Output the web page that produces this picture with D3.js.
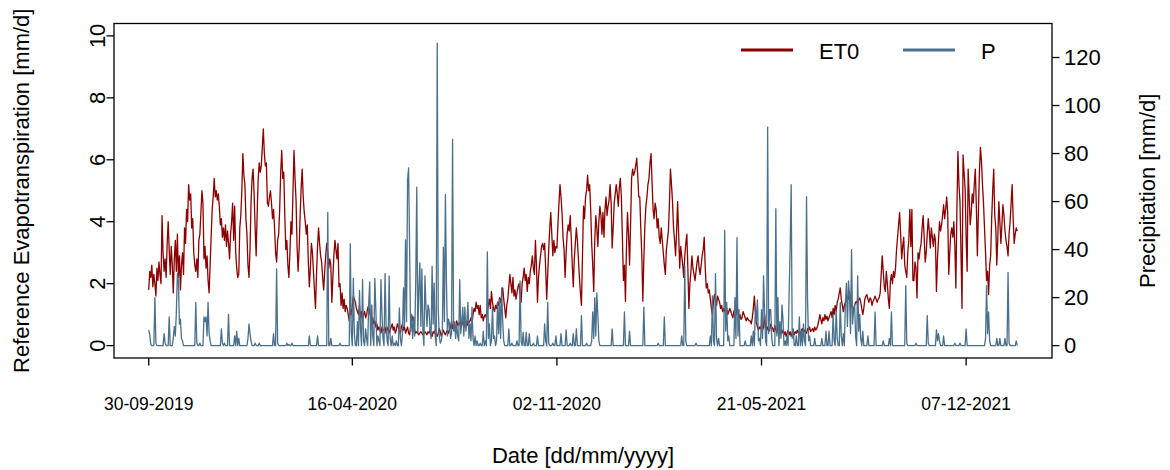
<!DOCTYPE html>
<html>
<head>
<meta charset="utf-8">
<script src="https://cdn.jsdelivr.net/npm/d3@7"></script>
<style>
  body { margin: 0; background: #fff; }
  svg { display: block; font-family: "Liberation Sans", Arial, sans-serif; }
</style>
</head>
<body>
<div id="chart"></div>
<script>
// ---- data ----
const startDate = "30-09-2019";
const dateTicks = ["30-09-2019", "16-04-2020", "02-11-2020", "21-05-2021", "07-12-2021"];
const et0Ticks = [0, 2, 4, 6, 8, 10];
const pTicks = [0, 20, 40, 60, 80, 100, 120];
const et0Lim = [0, 10];
const pLim = [0, 129];
const seriesNames = ["ET0", "P"];

// daily reference evapotranspiration [mm/d], one value per day from startDate
const et0 = [
  1.8, 2.4, 2.2, 2.6, 1.9, 2.3, 2.0, 1.6, 2.5, 2.1,
  2.7, 2.3, 2.0, 4.2, 3.0, 2.4, 2.8, 2.2, 3.3, 4.0,
  3.1, 2.3, 3.2, 2.6, 1.7, 2.8, 3.4, 2.4, 3.6, 2.2,
  2.9, 1.8, 2.6, 3.0, 2.3, 3.8, 3.3, 4.4, 4.0, 5.2,
  4.7, 4.9, 3.8, 4.1, 3.0, 2.6, 2.4, 2.8, 2.2, 3.4,
  3.6, 4.3, 5.0, 4.6, 2.8, 3.2, 2.5, 2.9, 2.1, 1.7,
  2.6, 3.5, 4.4, 4.8, 5.4, 4.8, 5.0, 4.7, 4.9, 4.5,
  3.9, 4.1, 3.5, 3.8, 3.4, 3.9, 3.2, 3.7, 3.3, 2.8,
  3.6, 4.0, 4.6, 3.4, 4.5, 3.0, 2.5, 2.2, 2.3, 3.8,
  4.2, 5.0, 6.2, 5.5, 5.2, 4.1, 3.6, 2.6, 2.2, 3.1,
  4.6, 5.4, 5.7, 4.9, 3.8, 2.9, 4.3, 5.4, 5.9, 5.6,
  5.8, 6.4, 7.0, 6.2, 5.8, 5.9, 4.6, 4.5, 4.8, 5.0,
  4.6, 4.1, 4.4, 3.8, 3.0, 2.7, 3.4, 3.6, 4.4, 5.6,
  6.3, 5.4, 5.6, 4.2, 3.1, 3.4, 2.6, 2.2, 3.0, 4.0,
  3.6, 5.0, 6.3, 5.4, 4.7, 3.2, 2.4, 3.1, 4.2, 5.1,
  5.7, 4.8, 4.3, 4.0, 3.6, 3.9, 2.7, 1.9, 2.5, 3.3,
  3.0, 2.4, 1.8, 1.2, 2.3, 3.2, 3.8, 3.3, 2.9, 2.7,
  2.2, 1.8, 2.4, 2.9, 3.3, 3.0, 2.5, 2.8, 2.6, 1.4,
  2.2, 2.9, 3.4, 3.1, 2.8, 3.3, 1.9, 2.0, 1.3, 1.7,
  1.2, 1.5, 1.1, 1.3, 1.2, 1.0, 0.8, 1.2, 1.0, 1.3,
  1.6, 1.5, 1.4, 1.2, 1.1, 1.0, 1.3, 0.9, 1.1, 0.8,
  1.0, 1.1, 0.9, 1.0, 1.2, 1.3, 1.1, 0.9, 0.7, 0.9,
  0.7, 0.8, 0.6, 0.7, 0.5, 0.6, 0.5, 0.4, 0.6, 0.5,
  0.5, 0.6, 0.4, 0.5, 0.6, 0.4, 0.5, 0.6, 0.7, 0.5,
  0.6, 0.4, 0.5, 0.7, 0.6, 0.5, 0.4, 0.6, 0.7, 0.5,
  0.6, 0.4, 0.5, 0.6, 0.4, 0.35, 0.6, 0.8, 0.95, 0.7,
  0.5, 0.4, 0.45, 0.4, 0.35, 0.4, 0.45, 0.4, 0.35, 0.4,
  0.45, 0.4, 0.35, 0.45, 0.4, 0.5, 0.35, 0.3, 0.45, 0.4,
  0.5, 0.35, 0.3, 0.4, 0.55, 0.45, 0.3, 0.4, 0.5, 0.4,
  0.35, 0.45, 0.5, 0.4, 0.5, 0.6, 0.8, 0.55, 0.7, 0.5,
  0.6, 0.8, 0.65, 0.7, 0.75, 0.6, 0.8, 0.7, 0.6, 0.75,
  0.7, 0.8, 0.65, 0.75, 0.8, 0.9, 0.7, 1.0, 1.2, 1.1,
  1.4, 1.2, 1.3, 1.0, 1.3, 0.9, 1.0, 0.8, 0.95, 1.0,
  0.9, 1.1, 1.3, 1.5, 1.2, 1.75, 1.4, 1.2, 1.1, 1.3,
  1.2, 1.4, 1.3, 1.55, 1.4, 1.6, 1.86, 1.5, 1.2, 0.9,
  1.3, 1.5, 1.9, 2.3, 2.0, 1.7, 2.2, 1.6, 1.8, 1.5,
  1.7, 1.9, 2.0, 1.6, 1.4, 2.0, 2.2, 2.5, 2.1, 2.3,
  1.75, 2.2, 2.0, 2.4, 2.6, 2.9, 2.5, 2.3, 3.4, 2.6,
  1.4, 2.2, 2.6, 2.9, 3.2, 3.3, 3.1, 3.3, 2.5, 1.5,
  2.3, 3.1, 3.8, 4.3, 3.6, 2.9, 3.4, 3.0, 3.2, 3.15,
  3.9, 4.6, 5.2, 4.8, 4.3, 3.5, 3.1, 2.2, 3.0, 3.6,
  3.9, 3.7, 4.2, 3.5, 2.6, 1.9, 2.8, 3.3, 3.8, 3.4,
  2.8, 2.2, 1.7, 1.3, 2.9, 4.5, 4.1, 4.8, 5.0, 5.5,
  5.0, 5.2, 4.4, 3.3, 2.6, 1.75, 3.4, 4.2, 3.8, 3.2,
  4.0, 4.5, 4.2, 3.6, 4.3, 3.5, 4.4, 4.8, 4.2, 4.5,
  4.7, 5.2, 4.6, 3.15, 3.8, 4.6, 4.9, 5.2, 4.9, 4.5,
  5.1, 5.4, 4.8, 3.5, 2.1, 2.6, 1.43, 3.2, 4.3, 3.6,
  2.6, 3.9, 5.4, 5.7, 5.5, 5.6, 5.8, 6.05, 5.5, 4.8,
  4.8, 3.8, 2.9, 1.43, 2.8, 3.9, 4.5, 4.8, 5.2, 5.4,
  5.9, 6.2, 5.3, 4.4, 4.1, 4.6, 4.4, 3.8, 4.1, 3.5,
  3.3, 3.8, 3.4, 3.0, 2.6, 2.3, 3.1, 3.4, 3.7, 4.6,
  5.7, 5.2, 4.65, 3.8, 3.4, 2.9, 3.7, 4.65, 3.6, 2.5,
  3.2, 2.9, 2.6, 2.2, 2.9, 3.3, 3.6, 2.5, 1.2, 2.0,
  2.4, 2.9, 2.5, 2.3, 2.1, 2.4, 2.7, 2.9, 2.5, 2.3,
  2.6, 2.9, 3.1, 3.5, 2.5, 1.86, 2.0, 1.7, 1.8, 1.5,
  1.2, 1.0, 1.4, 1.65, 1.5, 1.3, 1.6, 1.5, 1.4, 1.2,
  1.3, 1.1, 1.2, 1.1, 1.3, 1.2, 1.0, 1.1, 1.2, 1.1,
  1.0, 0.9, 1.1, 1.2, 1.0, 1.3, 1.1, 0.9, 1.0, 0.85,
  0.9, 1.1, 1.0, 0.9, 0.8, 0.9, 0.85, 0.8, 0.8, 0.7,
  0.9, 1.2, 1.6, 1.1, 0.75, 0.6, 0.5, 0.6, 0.55, 0.65,
  0.5, 0.6, 1.0, 0.55, 0.5, 0.6, 0.45, 0.5, 0.7, 0.6,
  0.55, 0.45, 0.65, 0.5, 0.4, 0.7, 0.5, 0.6, 0.55, 0.4,
  0.5, 0.35, 0.45, 0.3, 0.4, 0.5, 0.35, 0.45, 0.3, 0.4,
  0.5, 0.35, 0.45, 0.4, 0.5, 0.4, 0.45, 0.35, 0.5, 0.55,
  0.4, 0.5, 0.45, 0.4, 0.55, 0.5, 0.6, 0.45, 0.5, 0.55,
  0.45, 0.6, 0.5, 0.55, 0.65, 0.8, 1.0, 0.85, 0.7, 0.9,
  0.8, 1.0, 0.85, 0.95, 0.8, 0.9, 1.0, 1.1, 0.9, 1.2,
  1.0, 1.3, 1.1, 1.4, 1.5, 1.7, 1.86, 1.5, 1.3, 1.1,
  1.3, 1.4, 1.43, 1.6, 1.5, 1.75, 1.5, 1.3, 1.2, 1.1,
  1.3, 1.4, 1.43, 1.3, 1.5, 1.54, 1.4, 1.2, 1.0, 1.2,
  1.5, 1.6, 1.65, 1.5, 1.4, 1.54, 1.5, 1.3, 1.43, 1.5,
  1.6, 1.5, 1.4, 1.5, 1.54, 1.7, 2.3, 2.9, 2.4, 1.9,
  1.75, 2.4, 2.0, 1.5, 1.2, 2.1, 2.3, 2.0, 2.4, 2.2,
  2.5, 3.1, 3.5, 3.9, 4.3, 3.6, 2.8, 3.2, 3.5, 2.6,
  2.4, 2.2, 3.0, 3.4, 4.4, 3.2, 4.4, 2.1, 2.1, 2.7,
  2.5, 1.54, 3.0, 2.8, 3.1, 3.3, 3.8, 4.2, 3.5, 2.7,
  3.0, 3.6, 4.1, 3.7, 3.15, 3.8, 3.5, 3.2, 3.6, 3.4,
  1.75, 2.8, 3.4, 4.0, 3.7, 3.9, 4.2, 4.55, 4.1, 4.4,
  4.8, 4.3, 2.3, 3.0, 3.6, 3.8, 3.5, 4.0, 3.2, 1.86,
  4.4, 6.27, 5.2, 4.65, 3.0, 1.2, 6.16, 5.6, 5.1, 3.5,
  2.4, 5.7, 4.8, 3.9, 4.3, 4.9, 4.6, 5.2, 5.7, 4.5,
  2.9, 4.3, 5.6, 6.4, 5.95, 5.2, 4.6, 3.8, 3.0, 2.1,
  2.4, 1.65, 2.6, 2.9, 4.1, 5.0, 5.7, 4.2, 3.8, 2.6,
  3.5, 4.65, 4.0, 3.3, 3.9, 4.55, 4.2, 3.7, 3.4, 3.2,
  2.9, 3.6, 4.0, 4.6, 5.2, 4.1, 3.3, 3.6, 3.8, 3.7
];

// precipitation [mm/d]: days (index from startDate) with rain, and the amounts; all other days are 0
const pDay = [
  0, 1, 2, 6, 7, 15, 16, 20, 24, 25, 26, 27, 28, 29, 30, 31, 32, 33, 46, 47,
  50, 54, 55, 56, 57, 58, 59, 60, 71, 72, 74, 78, 84, 86, 88, 97, 98, 99, 100, 104,
  108, 122, 125, 126, 135, 137, 140, 157, 165, 175, 178, 187, 197, 198, 200, 201, 204, 206, 207, 209,
  210, 212, 213, 215, 216, 218, 219, 221, 222, 224, 225, 227, 228, 229, 231, 232, 233, 235, 236, 238,
  240, 242, 245, 246, 248, 249, 250, 251, 252, 253, 254, 255, 256, 257, 258, 259, 260, 261, 262, 263,
  264, 265, 266, 267, 268, 270, 271, 272, 273, 274, 275, 276, 277, 278, 279, 280, 282, 283, 284, 285,
  286, 287, 288, 289, 290, 291, 292, 293, 294, 295, 296, 297, 298, 299, 300, 301, 302, 303, 304, 305,
  306, 307, 308, 309, 310, 311, 312, 313, 314, 315, 316, 317, 319, 321, 324, 327, 329, 331, 332, 333,
  335, 336, 337, 338, 340, 341, 342, 343, 344, 345, 346, 347, 352, 355, 360, 363, 364, 366, 369, 372,
  376, 380, 387, 388, 390, 391, 395, 398, 403, 408, 412, 415, 418, 423, 428, 433, 434, 435, 436, 437,
  438, 439, 440, 453, 465, 470, 484, 498, 504, 521, 524, 525, 535, 549, 551, 552, 554, 555, 557, 563,
  564, 565, 566, 567, 573, 574, 575, 576, 577, 583, 589, 591, 593, 594, 595, 596, 597, 599, 600, 601,
  602, 603, 605, 606, 607, 608, 609, 613, 614, 615, 617, 618, 619, 620, 622, 624, 626, 627, 628, 629,
  630, 633, 636, 638, 640, 641, 643, 644, 645, 646, 651, 658, 662, 665, 669, 670, 672, 673, 676, 677,
  679, 681, 682, 683, 684, 685, 686, 687, 688, 689, 690, 691, 693, 694, 695, 696, 698, 703, 710, 718,
  724, 726, 740, 741, 750, 761, 762, 770, 771, 772, 773, 777, 788, 793, 799, 818, 819, 820, 821, 822,
  829, 832, 837, 840, 841, 848
];
const pVal = [
  6.5, 4.5, 0.5, 20, 1, 5, 1, 12, 3, 8, 4, 14, 30, 27, 9, 11, 3, 2, 18, 1,
  1, 12, 10, 12, 4, 18, 5, 2, 7, 1, 1, 13, 4, 6, 3, 3, 9, 5, 2, 1,
  1, 5, 32, 1, 1, 0.5, 1, 4, 4, 55.5, 3, 1, 42.5, 5, 28, 5, 10, 23, 7, 27.5,
  2, 7, 3, 17, 26.5, 17, 4, 28, 15, 4, 2, 27.5, 13, 3, 30, 9, 2, 29, 3, 4,
  1, 2, 15.7, 3, 5, 24, 8, 44, 10, 69, 74, 40.7, 6, 13, 3, 11.6, 4, 27, 66, 5,
  23, 34.5, 8, 32, 6, 29, 16, 8, 17, 15, 6, 3, 33, 9, 26, 4, 126, 15, 4, 1,
  2, 5, 41, 10, 63, 27, 4, 11, 9, 3, 5, 86, 6, 10, 3, 9, 4, 2, 27.5, 5,
  10, 16, 4, 16, 6, 10, 18, 3, 9, 2, 16, 3, 4, 2, 1, 6, 2, 39, 3, 9,
  2, 16, 3, 4, 2, 18, 5, 19, 3, 24, 10, 2, 7, 1, 2, 27, 2, 5.5, 5.5, 5,
  1, 4, 9, 2, 18, 1, 1, 4, 5, 6.5, 1, 5, 7, 12.5, 1, 2, 14, 3, 20, 4,
  22, 13, 2, 7, 14, 6, 16, 1, 12, 4, 33, 2, 1, 4, 20.7, 2, 30, 3, 3, 48,
  6, 18, 2, 4, 20, 3, 45, 4, 15, 2, 4, 6, 16, 10, 19, 2, 3, 15, 3, 29,
  14, 2, 91, 5, 15, 15, 3, 57, 4, 20, 10, 3, 17, 11, 2, 4, 22, 41, 67, 3,
  7, 4, 12, 6, 9, 2, 62, 19, 2, 4, 3, 3, 6, 6, 13, 2, 15, 3, 18, 4,
  5, 18, 26, 8, 27, 21, 5, 40, 9, 15, 17, 4, 29, 6, 13, 3, 6, 4, 14, 2,
  3, 14, 25, 1, 1, 12.5, 1, 6.5, 2, 5, 2, 4, 1, 1, 7, 3, 25, 5, 14, 2,
  3, 3, 3, 30.5, 1, 2
];

// ---- layout ----
const width = 1170,
  height = 470;
const box = { left: 114, right: 1052, top: 23.5, bottom: 358 };
const tickLen = 7.5;
const et0Color = "#8B0000",
  pColor = "#4A708B";

const svg = d3
  .select("#chart")
  .append("svg")
  .attr("width", width)
  .attr("height", height);

// build daily series
const parseDate = d3.utcParse("%d-%m-%Y");
const t0 = parseDate(startDate);
const dayMs = 864e5;
const n = et0.length;
const days = d3.range(n).map((i) => new Date(t0.getTime() + i * dayMs));
const precip = new Array(n).fill(0);
pDay.forEach((d, i) => (precip[d] = pVal[i]));

// R style 4% padding on every axis
const pad = (lim) => {
  const r = (lim[1] - lim[0]) * 0.04;
  return [lim[0] - r, lim[1] + r];
};
const xPad = (n - 1) * 0.04 * dayMs;

const x = d3
  .scaleUtc()
  .domain([new Date(t0.getTime() - xPad), new Date(days[n - 1].getTime() + xPad)])
  .range([box.left, box.right]);
const yL = d3.scaleLinear().domain(pad(et0Lim)).range([box.bottom, box.top]);
const yR = d3.scaleLinear().domain(pad(pLim)).range([box.bottom, box.top]);

// ET0 line
svg
  .append("path")
  .datum(et0)
  .attr("fill", "none")
  .attr("stroke", et0Color)
  .attr("stroke-width", 1.3)
  .attr("stroke-linejoin", "round")
  .attr("d", d3.line().x((d, i) => x(days[i])).y((d) => yL(d)));

// precipitation line, drawn on top
svg
  .append("path")
  .datum(precip)
  .attr("fill", "none")
  .attr("stroke", pColor)
  .attr("stroke-width", 1.3)
  .attr("stroke-linejoin", "round")
  .attr("d", d3.line().x((d, i) => x(days[i])).y((d) => yR(d)));

// plot frame
svg
  .append("rect")
  .attr("x", box.left)
  .attr("y", box.top)
  .attr("width", box.right - box.left)
  .attr("height", box.bottom - box.top)
  .attr("fill", "none")
  .attr("stroke", "#000")
  .attr("stroke-width", 1.3);

// left axis (ticks + rotated labels)
const gL = svg.append("g");
et0Ticks.forEach((v) => {
  gL.append("line")
    .attr("x1", box.left).attr("x2", box.left - tickLen)
    .attr("y1", yL(v)).attr("y2", yL(v))
    .attr("stroke", "#000").attr("stroke-width", 1.3);
  gL.append("text")
    .attr("transform", `translate(97,${yL(v)}) rotate(-90)`)
    .attr("text-anchor", "middle")
    .attr("dy", "0.35em")
    .attr("font-size", 22)
    .text(v);
});

// right axis (ticks + horizontal labels)
const gR = svg.append("g");
pTicks.forEach((v) => {
  gR.append("line")
    .attr("x1", box.right).attr("x2", box.right + tickLen)
    .attr("y1", yR(v)).attr("y2", yR(v))
    .attr("stroke", "#000").attr("stroke-width", 1.3);
  gR.append("text")
    .attr("x", box.right + 12)
    .attr("y", yR(v))
    .attr("dy", "0.35em")
    .attr("font-size", 22)
    .text(v);
});

// bottom axis (date ticks)
const gB = svg.append("g");
dateTicks.forEach((s) => {
  const xv = x(parseDate(s));
  gB.append("line")
    .attr("x1", xv).attr("x2", xv)
    .attr("y1", box.bottom).attr("y2", box.bottom + tickLen)
    .attr("stroke", "#000").attr("stroke-width", 1.3);
  gB.append("text")
    .attr("x", xv)
    .attr("y", 404)
    .attr("dy", "0.35em")
    .attr("text-anchor", "middle")
    .attr("font-size", 17.5)
    .text(s);
});

// axis titles
svg
  .append("text")
  .attr("x", (box.left + box.right) / 2)
  .attr("y", 455)
  .attr("dy", "0.35em")
  .attr("text-anchor", "middle")
  .attr("font-size", 22)
  .text("Date [dd/mm/yyyy]");

svg
  .append("text")
  .attr("transform", `translate(21,${(box.top + box.bottom) / 2}) rotate(-90)`)
  .attr("text-anchor", "middle")
  .attr("dy", "0.35em")
  .attr("font-size", 22)
  .text("Reference Evapotranspiration [mm/d]");

svg
  .append("text")
  .attr("transform", `translate(1147,${(box.top + box.bottom) / 2}) rotate(-90)`)
  .attr("text-anchor", "middle")
  .attr("dy", "0.35em")
  .attr("font-size", 22)
  .text("Precipitation [mm/d]");

// legend (top right, no box)
const legend = svg.append("g");
const legendX = [741, 903];
[et0Color, pColor].forEach((c, i) => {
  legend.append("line")
    .attr("x1", legendX[i]).attr("x2", legendX[i] + 52)
    .attr("y1", 50).attr("y2", 50)
    .attr("stroke", c).attr("stroke-width", 2.8);
  legend.append("text")
    .attr("x", legendX[i] + 78)
    .attr("y", 51)
    .attr("dy", "0.35em")
    .attr("font-size", 22)
    .text(seriesNames[i]);
});
</script>
</body>
</html>
